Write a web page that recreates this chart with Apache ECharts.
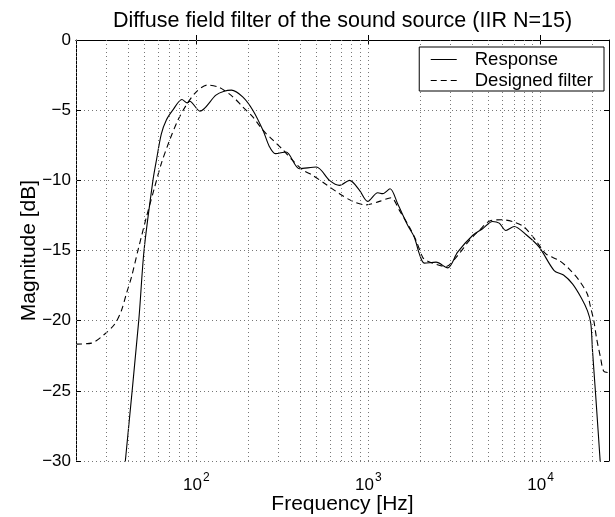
<!DOCTYPE html>
<html>
<head>
<meta charset="utf-8">
<script src="https://cdn.jsdelivr.net/npm/echarts@6/dist/echarts.min.js"></script>
<style>
html,body{margin:0;padding:0;background:#fff;}
#chart{width:615px;height:517px;}
</style>
</head>
<body>
<div id="chart"></div>
<script>
// ---- data (frequency in Hz, magnitude in dB) ----
const titleText = 'Diffuse field filter of the sound source (IIR N=15)';
const xLabel = 'Frequency [Hz]';
const yLabel = 'Magnitude [dB]';
const seriesNames = ['Response', 'Designed filter'];

const responseFreq = [36, 38.7, 46.3, 49.7, 56, 58.6, 62.6, 67, 73, 82.5, 88.6, 91.5, 105, 130, 145, 160, 186, 213, 244, 266, 288, 332, 398, 498, 594, 679, 777, 888, 991, 1133, 1211, 1336, 1479, 1691, 1849, 1977, 2113, 2471, 2886, 3299, 4030, 4606, 5264, 5757, 6296, 7035, 8224, 9826, 12000, 13600, 15340, 17300, 18750, 19600, 20040, 20970, 22210, 22600];
const responseDb = [-34, -30, -20, -15, -10, -8.6, -6.7, -5.7, -5.0, -4.24, -4.48, -4.36, -5.07, -3.93, -3.65, -3.57, -4.05, -5.0, -6.43, -7.6, -8.1, -7.98, -9.17, -9.05, -10.0, -10.36, -10.0, -10.71, -11.5, -10.88, -10.95, -10.6, -11.67, -13.2, -14.05, -15.24, -15.9, -15.83, -16.24, -15.12, -13.93, -13.45, -12.93, -13.05, -13.57, -13.29, -13.86, -14.76, -16.43, -16.75, -17.38, -18.4, -19.3, -20.2, -22.1, -25.5, -30, -31.5];

const designedFreq = [20, 24.6, 29.4, 33.6, 36.7, 39.2, 42, 45.8, 51.3, 57.3, 62.6, 70, 78.2, 87.5, 100, 116, 136, 163, 186, 213, 244, 279, 318, 364, 420, 475, 568, 679, 811, 970, 1159, 1355, 1514, 1730, 1892, 2066, 2163, 2823, 3299, 3855, 4406, 5152, 6024, 7035, 8038, 9398, 10740, 12830, 14660, 16780, 18700, 19500, 20400, 21200, 22300, 23300, 25000];
const designedDb = [-21.67, -21.6, -20.95, -20.24, -19.29, -18.1, -16.9, -15, -12.62, -10.48, -8.81, -7.14, -5.71, -4.64, -3.69, -3.21, -3.38, -4.05, -4.76, -5.48, -6.43, -7.14, -7.81, -8.6, -9.3, -9.65, -10.3, -10.95, -11.5, -11.75, -11.5, -11.24, -12.14, -13.33, -14.29, -15.48, -15.71, -16.14, -15.36, -14.29, -13.57, -12.86, -12.81, -12.98, -13.33, -14.29, -15.24, -15.71, -16.31, -17.14, -18.1, -19.0, -20.0, -21.3, -22.6, -23.6, -23.7];

const xMin = 20, xMax = 25000;
const yMin = -30, yMax = 0, yStep = 5;
const gridFreqs = [20, 30, 40, 50, 60, 70, 80, 90, 100, 200, 300, 400, 500, 600, 700, 800, 900, 1000, 2000, 3000, 4000, 5000, 6000, 7000, 8000, 9000, 10000, 20000];

// ---- chart ----
const FONT = '"Liberation Sans", Arial, Helvetica, sans-serif';
const chart = echarts.init(document.getElementById('chart'), null, {renderer: 'canvas'});

function zip(xs, ys) { return xs.map((x, i) => [x, ys[i]]); }
function powLabel(v) {
  const e = Math.round(Math.log10(v));
  if (Math.abs(Math.pow(10, e) - v) > 1e-6 * v) return '';
  return '{b|10}{s|' + e + '}';
}
const dotted = {color: '#777', width: 1, type: [1, 3]};

const option = {
  animation: false,
  backgroundColor: '#fff',
  title: {
    text: titleText,
    left: 337.5,
    textAlign: 'center',
    top: 5,
    textStyle: {fontFamily: FONT, fontSize: 21.5, fontWeight: 'normal', color: '#000'}
  },
  legend: {
    orient: 'vertical',
    right: 11,
    top: 47,
    padding: [3, 11, 1, 11],
    itemGap: 2,
    itemWidth: 26,
    itemHeight: 20,
    borderColor: '#000',
    borderWidth: 1,
    backgroundColor: '#fff',
    itemStyle: {opacity: 0},
    lineStyle: {width: 1},
    textStyle: {fontFamily: FONT, fontSize: 18.5, color: '#000', padding: [0, 0, 0, 13]},
    data: seriesNames,
    z: 10
  },
  grid: {left: 76, right: 6, top: 40, bottom: 56, containLabel: false, outerBoundsMode: 'none'},
  xAxis: [{
    type: 'log', logBase: 10, min: xMin, max: xMax,
    name: xLabel, nameLocation: 'middle', nameGap: 33, nameMoveOverlap: false,
    nameTextStyle: {fontFamily: FONT, fontSize: 21, color: '#000'},
    axisLine: {lineStyle: {color: '#000', width: 1}},
    axisTick: {inside: true, length: 5, lineStyle: {color: '#000'}},
    splitLine: {show: false},
    minorTick: {show: false},
    axisLabel: {
      showMinLabel: false, showMaxLabel: false, margin: 13,
      formatter: powLabel,
      rich: {
        b: {fontFamily: FONT, fontSize: 17, color: '#000', verticalAlign: 'bottom', lineHeight: 20},
        s: {fontFamily: FONT, fontSize: 12, color: '#000', verticalAlign: 'bottom', padding: [0, 0, 10, 1], lineHeight: 14}
      }
    }
  }, {
    type: 'log', logBase: 10, min: xMin, max: xMax, position: 'top',
    axisLine: {lineStyle: {color: '#000', width: 1}},
    axisTick: {inside: true, length: 5, lineStyle: {color: '#000'}},
    axisLabel: {show: false},
    splitLine: {show: false}
  }],
  yAxis: [{
    type: 'value', min: yMin, max: yMax, interval: yStep,
    name: yLabel, nameLocation: 'middle', nameGap: 36, nameMoveOverlap: false,
    nameTextStyle: {fontFamily: FONT, fontSize: 21, color: '#000'},
    axisLine: {show: true, lineStyle: {color: '#000', width: 1}},
    axisTick: {show: true, inside: true, length: 5, lineStyle: {color: '#000'}},
    splitLine: {show: true, lineStyle: dotted},
    axisLabel: {
      fontFamily: FONT, fontSize: 17, color: '#000', margin: 5,
      formatter: v => v === 0 ? '0' : '\u2212' + Math.abs(v)
    }
  }, {
    type: 'value', min: yMin, max: yMax, interval: yStep, position: 'right',
    axisLine: {show: true, lineStyle: {color: '#000', width: 1}},
    axisTick: {show: true, inside: true, length: 5, lineStyle: {color: '#000'}},
    axisLabel: {show: false},
    splitLine: {show: false}
  }],
  series: [{
    name: 'grid-lines',
    type: 'line',
    data: [],
    silent: true,
    z: 1,
    markLine: {
      silent: true, symbol: 'none', label: {show: false},
      lineStyle: dotted,
      animation: false,
      data: gridFreqs.map(f => ({xAxis: f}))
    }
  }, {
    name: seriesNames[0],
    type: 'line',
    data: zip(responseFreq, responseDb),
    showSymbol: false, symbol: 'none',
    smooth: 0.3,
    clip: true,
    z: 3,
    lineStyle: {color: '#000', width: 1.1, type: 'solid'},
    itemStyle: {color: '#000'}
  }, {
    name: seriesNames[1],
    type: 'line',
    data: zip(designedFreq, designedDb),
    showSymbol: false, symbol: 'none',
    smooth: 0.3,
    clip: true,
    z: 3,
    lineStyle: {color: '#000', width: 1.1, type: [6, 4]},
    itemStyle: {color: '#000'}
  }]
};
chart.setOption(option);
</script>
</body>
</html>
